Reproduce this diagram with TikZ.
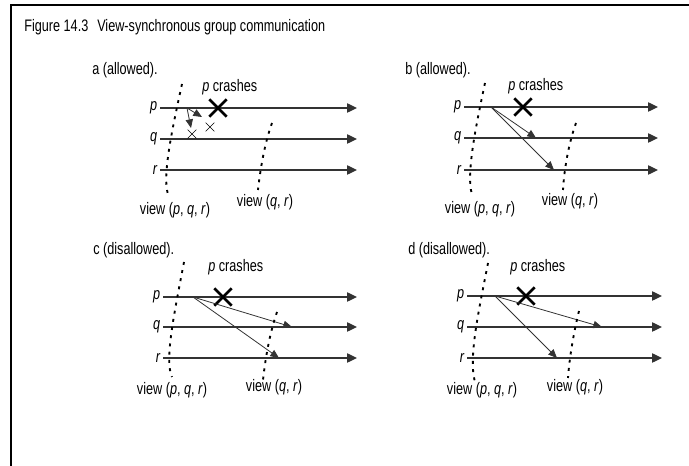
\documentclass[tikz,border=0pt]{standalone}
\usepackage{fontspec}
\setmainfont{Liberation Sans}[FakeStretch=0.76]
\usepackage{tikz}
\usetikzlibrary{arrows.meta}
\usetikzlibrary{shapes.misc}
\definecolor{lineGray}{HTML}{333333}

\tikzset{
  tline/.style={draw=lineGray, line width=1pt, -{Triangle[length=7.5pt,width=7pt]}},
  msg/.style={draw=lineGray, line width=0.6pt, -{Triangle[length=6.5pt,width=5.5pt]}},
  viewline/.style={line width=1.4pt, dash pattern=on 2.2pt off 4pt},
  crashmark/.style={cross out, draw, line width=2pt, minimum size=11pt, inner sep=0pt},
  lostmark/.style={cross out, draw, line width=0.5pt, minimum size=6pt, inner sep=0pt},
  proc/.style={anchor=east, inner sep=2pt, font=\fontsize{12.5}{14}\selectfont\itshape},
  caption/.style={anchor=west, inner sep=0pt}
}

\begin{document}
\begin{tikzpicture}[x=0.75pt, y=-0.75pt, font=\fontsize{12.5}{14}\selectfont]

        \useasboundingbox (0,0) rectangle (689,466);

        % Frame
        \draw[line width=1.2pt] (11,466) -- (11,5) -- (689,5);

        % Title
        \node[caption] (fignum) at (24,27) {Figure 14.3};
        \node[caption] (figtitle) at (97,27) {View-synchronous group communication};

        % Part a

        \node[caption] (alabel) at (92,70) {a (allowed).};
        \node[proc] (ap) at (160,108) {p};
        \node[proc] (aq) at (160,139) {q};
        \node[proc] (ar) at (160,170) {r};
        \coordinate (apend) at (357,108);
        \coordinate (aqend) at (357,139);
        \coordinate (arend) at (357,170);
        \draw[tline] (ap.east) -- (apend);
        \draw[tline] (aq.east) -- (aqend);
        \draw[tline] (ar.east) -- (arend);

        \node[caption] (acrashtext) at (202,87) {\textit{p} crashes};
        \node[crashmark] (acrash) at (218,108) {};

        % messages lost
        \coordinate (asend) at (187,108);
        \coordinate (atoq) at (191,128);
        \coordinate (atoq2) at (202,117);
        \draw[msg] (asend) -- (atoq);
        \draw[msg] (asend) -- (atoq2);
        \node[lostmark] (alost1) at (192,134) {};
        \node[lostmark] (alost2) at (210,127) {};

        % views
        \draw[viewline] (182,84) .. controls (172,130) and (161,180) .. (169,197);
        \draw[viewline] (272,123) .. controls (264,145) and (260,172) .. (258,190);
        \node (aview1) at (175,210) {view (\textit{p}, \textit{q}, \textit{r})};
        \node (aview2) at (265,202) {view (\textit{q}, \textit{r})};

        % Part b

        \node[caption] (blabel) at (405,70) {b (allowed).};
        \node[proc] (bp) at (464,107) {p};
        \node[proc] (bq) at (464,138) {q};
        \node[proc] (br) at (464,170) {r};
        \coordinate (bpend) at (658,107);
        \coordinate (bqend) at (658,138);
        \coordinate (brend) at (658,170);
        \draw[tline] (bp.east) -- (bpend);
        \draw[tline] (bq.east) -- (bqend);
        \draw[tline] (br.east) -- (brend);

        \node[caption] (bcrashtext) at (508,86) {\textit{p} crashes};
        \node[crashmark] (bcrash) at (523,107) {};

        % messages
        \coordinate (bsend) at (491,107);
        \coordinate (btoq) at (536,138);
        \coordinate (btor) at (554,170);
        \draw[msg] (bsend) -- (btoq);
        \draw[msg] (bsend) -- (btor);

        % views
        \draw[viewline] (485,83) .. controls (475,130) and (465,180) .. (473,197);
        \draw[viewline] (576,123) .. controls (568,145) and (564,172) .. (563,190);
        \node (bview1) at (480,209) {view (\textit{p}, \textit{q}, \textit{r})};
        \node (bview2) at (570,201) {view (\textit{q}, \textit{r})};

        % Part c

        \node[caption] (clabel) at (93,250) {c (disallowed).};
        \node[proc] (cp) at (163,297) {p};
        \node[proc] (cq) at (163,327) {q};
        \node[proc] (cr) at (163,358) {r};
        \coordinate (cpend) at (357,297);
        \coordinate (cqend) at (357,327);
        \coordinate (crend) at (357,358);
        \draw[tline] (cp.east) -- (cpend);
        \draw[tline] (cq.east) -- (cqend);
        \draw[tline] (cr.east) -- (crend);

        \node[caption] (ccrashtext) at (208,267) {\textit{p} crashes};
        \node[crashmark] (ccrash) at (223,297) {};

        % messages
        \coordinate (csend) at (193,297);
        \coordinate (ctoq) at (292,327);
        \coordinate (ctor) at (279,358);
        \draw[msg] (csend) -- (ctoq);
        \draw[msg] (csend) -- (ctor);

        % views
        \draw[viewline] (184,262) .. controls (175,310) and (164,360) .. (172,377);
        \draw[viewline] (277,312) .. controls (269,335) and (265,362) .. (263,380);
        \node (cview1) at (172,390) {view (\textit{p}, \textit{q}, \textit{r})};
        \node (cview2) at (274,387) {view (\textit{q}, \textit{r})};

        % Part d

        \node[caption] (dlabel) at (408,250) {d (disallowed).};
        \node[proc] (dp) at (467,296) {p};
        \node[proc] (dq) at (467,327) {q};
        \node[proc] (dr) at (467,358) {r};
        \coordinate (dpend) at (662,296);
        \coordinate (dqend) at (662,327);
        \coordinate (drend) at (662,358);
        \draw[tline] (dp.east) -- (dpend);
        \draw[tline] (dq.east) -- (dqend);
        \draw[tline] (dr.east) -- (drend);

        \node[caption] (dcrashtext) at (510,267) {\textit{p} crashes};
        \node[crashmark] (dcrash) at (526,296) {};

        % messages
        \coordinate (dsend) at (495,296);
        \coordinate (dtoq) at (602,327);
        \coordinate (dtor) at (557,358);
        \draw[msg] (dsend) -- (dtoq);
        \draw[msg] (dsend) -- (dtor);

        % views
        \draw[viewline] (488,263) .. controls (479,310) and (467,362) .. (476,385);
        \draw[viewline] (579,311) .. controls (573,335) and (569,362) .. (568,378);
        \node (dview1) at (482,390) {view (\textit{p}, \textit{q}, \textit{r})};
        \node (dview2) at (575,387) {view (\textit{q}, \textit{r})};

\end{tikzpicture}
\end{document}
